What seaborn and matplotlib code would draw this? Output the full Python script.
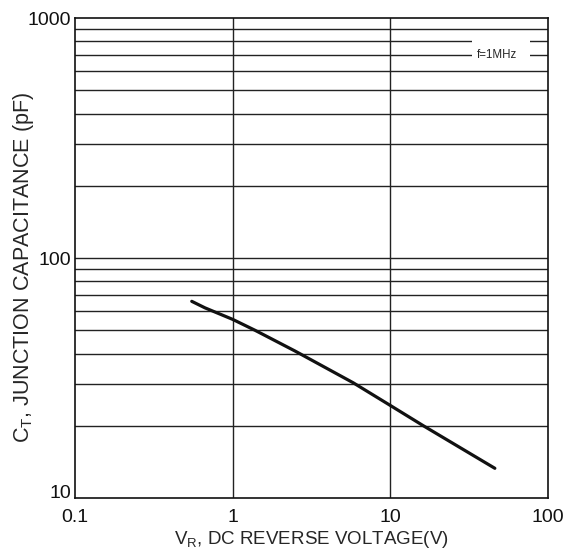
import matplotlib
matplotlib.use('Agg')
import numpy as np
import pandas as pd
import matplotlib.pyplot as plt
import seaborn as sns
from matplotlib.ticker import FixedLocator, FixedFormatter, NullFormatter

# Curve (log-log)
vr = [0.55, 0.667, 1.0, 1.385, 2.48, 5.82, 10.0, 16.2, 46.0]
ct = [66.0, 62.0, 55.5, 50.0, 41.0, 30.2, 24.3, 20.0, 13.3]

x_ticks = [0.1, 1, 10, 100]
x_labels = ['0.1', '1', '10', '100']
y_ticks = [10, 100, 1000]
y_labels = ['10', '100', '1000']
y_grid = [20, 30, 40, 50, 60, 70, 80, 90, 100, 200, 300, 400, 500, 600, 700, 800, 900]

sns.set_style('white')
plt.rcParams['font.family'] = ['Liberation Sans', 'DejaVu Sans']
plt.rcParams['mathtext.fontset'] = 'custom'
plt.rcParams['mathtext.rm'] = 'Liberation Sans'

df = pd.DataFrame({'vr': vr, 'ct': ct})

fig = plt.figure(figsize=(5.88, 5.58), dpi=100)
ax = fig.add_axes([0.1276, 0.1075, 0.8044, 0.8602])

ax.set_xscale('log')
ax.set_yscale('log')
ax.set_xlim(0.1, 100)
ax.set_ylim(10, 1000)

# grid: decades on x, every value on y
for v in [1, 10]:
    ax.axvline(v, color='#222222', lw=1.0, zorder=1)
for v in y_grid:
    ax.axhline(v, color='#222222', lw=1.0, zorder=1)

sns.lineplot(data=df, x='vr', y='ct', color='#111111', lw=2.3, ax=ax, zorder=3)

ax.xaxis.set_major_locator(FixedLocator(x_ticks))
ax.xaxis.set_major_formatter(FixedFormatter(x_labels))
ax.yaxis.set_major_locator(FixedLocator(y_ticks))
ax.yaxis.set_major_formatter(FixedFormatter(y_labels))
ax.xaxis.set_minor_formatter(NullFormatter())
ax.yaxis.set_minor_formatter(NullFormatter())
ax.tick_params(which='both', length=0, labelsize=14, colors='#111111')
ax.tick_params(axis='x', pad=8)
ax.tick_params(axis='y', pad=3)
for lbl in ax.get_yticklabels():
    if lbl.get_text() == '10':
        lbl.set_verticalalignment('baseline')

ax.set_xlabel(r'V$_\mathregular{R}$, DC REVERSE VOLTAGE(V)', fontsize=13.5, labelpad=2)
ax.set_ylabel(r'C$_\mathregular{T}$, JUNCTION CAPACITANCE (pF)', fontsize=15.5)
ax.yaxis.set_label_coords(-0.108, 0.48)
ax.yaxis.label.set_verticalalignment('center')

for s in ax.spines.values():
    s.set_color('#111111')
    s.set_linewidth(1.2)

# white gap behind the frequency note
ax.axhspan(675, 840, xmin=0.839, xmax=0.962, color='white', lw=0, zorder=2)
ax.text(47.4, 700, 'f=1MHz', fontsize=8.3, ha='center', va='center', zorder=4)

fig.savefig('out.png', dpi=100)
